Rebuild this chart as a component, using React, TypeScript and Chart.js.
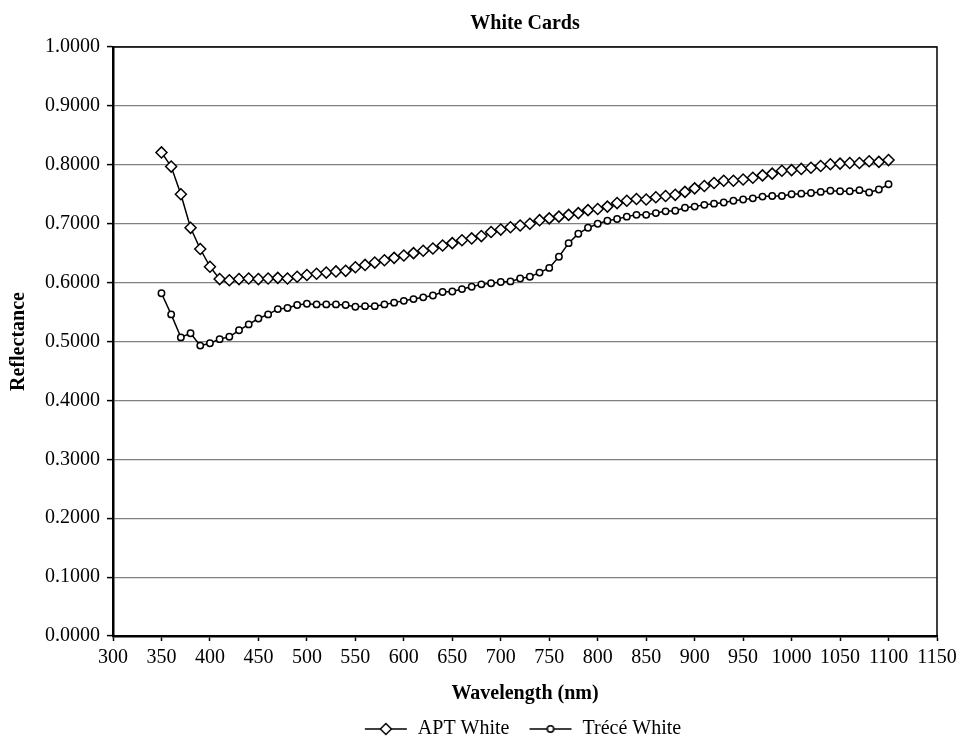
import React, { useEffect, useRef } from 'react';
import { Chart, registerables } from 'chart.js';

Chart.register(...registerables);

// wavelength (nm) of every reading
const wavelengths = [
  350, 360, 370, 380, 390, 400, 410, 420, 430, 440,
  450, 460, 470, 480, 490, 500, 510, 520, 530, 540,
  550, 560, 570, 580, 590, 600, 610, 620, 630, 640,
  650, 660, 670, 680, 690, 700, 710, 720, 730, 740,
  750, 760, 770, 780, 790, 800, 810, 820, 830, 840,
  850, 860, 870, 880, 890, 900, 910, 920, 930, 940,
  950, 960, 970, 980, 990, 1000, 1010, 1020, 1030, 1040,
  1050, 1060, 1070, 1080, 1090, 1100,
];

const aptWhite = [
  0.821, 0.797, 0.750, 0.693, 0.657, 0.627, 0.606, 0.604, 0.606, 0.607,
  0.606, 0.607, 0.608, 0.607, 0.610, 0.613, 0.615, 0.617, 0.619, 0.620,
  0.626, 0.630, 0.634, 0.638, 0.642, 0.646, 0.650, 0.654, 0.658, 0.663,
  0.667, 0.672, 0.675, 0.679, 0.686, 0.690, 0.694, 0.697, 0.700, 0.706,
  0.709, 0.712, 0.715, 0.718, 0.723, 0.725, 0.729, 0.735, 0.739, 0.742,
  0.741, 0.745, 0.747, 0.749, 0.754, 0.760, 0.764, 0.769, 0.773, 0.773,
  0.775, 0.778, 0.782, 0.785, 0.790, 0.791, 0.793, 0.795, 0.798, 0.801,
  0.802, 0.803, 0.803, 0.806, 0.805, 0.808,
];

const treceWhite = [
  0.582, 0.546, 0.507, 0.514, 0.493, 0.497, 0.504, 0.508, 0.519, 0.529,
  0.539, 0.546, 0.555, 0.557, 0.562, 0.564, 0.563, 0.563, 0.563, 0.562,
  0.559, 0.560, 0.560, 0.563, 0.566, 0.569, 0.572, 0.575, 0.578, 0.584,
  0.585, 0.589, 0.593, 0.597, 0.599, 0.601, 0.602, 0.607, 0.610, 0.617,
  0.625, 0.644, 0.667, 0.683, 0.693, 0.700, 0.705, 0.708, 0.712, 0.715,
  0.715, 0.718, 0.721, 0.722, 0.727, 0.729, 0.732, 0.734, 0.736, 0.739,
  0.741, 0.743, 0.746, 0.747, 0.747, 0.750, 0.751, 0.752, 0.754, 0.756,
  0.755, 0.755, 0.757, 0.753, 0.758, 0.767,
];

const seriesNames = ['APT White', 'Trécé White'];

const FONT = '"Liberation Serif", "Times New Roman", serif';

// small "—◇—" / "—o—" picture for the legend (left part kept empty as item spacing)
const ICON_GAP = 17;
function legendIcon(shape: 'diamond' | 'circle') {
  const c = document.createElement('canvas');
  c.width = 44 + ICON_GAP;
  c.height = 16;
  const ctx = c.getContext('2d')!;
  const x0 = ICON_GAP;
  const mid = x0 + 22;
  ctx.strokeStyle = '#000';
  ctx.lineWidth = 1.5;
  ctx.beginPath();
  ctx.moveTo(x0 + 1, 8);
  ctx.lineTo(x0 + 43, 8);
  ctx.stroke();
  ctx.fillStyle = '#fff';
  ctx.beginPath();
  if (shape === 'diamond') {
    ctx.moveTo(mid, 2.5);
    ctx.lineTo(mid + 5.5, 8);
    ctx.lineTo(mid, 13.5);
    ctx.lineTo(mid - 5.5, 8);
    ctx.closePath();
  } else {
    ctx.arc(mid, 8, 3.2, 0, Math.PI * 2);
  }
  ctx.fill();
  ctx.stroke();
  return c;
}

// thin black frame round the plot area (top and right edges),
// and nudge the legend a little left like the original
const framePlugin = {
  id: 'plotFrame',
  afterLayout(chart: any) {
    if (chart.legend) {
      chart.legend.left -= 11;
      chart.legend.right -= 11;
    }
  },
  afterDraw(chart: Chart) {
    const { ctx, chartArea } = chart;
    ctx.save();
    ctx.strokeStyle = '#000';
    ctx.lineWidth = 1.5;
    ctx.beginPath();
    ctx.moveTo(chartArea.left, chartArea.top);
    ctx.lineTo(chartArea.right, chartArea.top);
    ctx.lineTo(chartArea.right, chartArea.bottom);
    ctx.stroke();
    ctx.restore();
  },
};

const App: React.FC = () => {
  const chartRef = useRef<HTMLCanvasElement>(null);
  const chartInstance = useRef<Chart | null>(null);

  useEffect(() => {
    if (!chartRef.current) return;
    const ctx = chartRef.current.getContext('2d');
    if (!ctx) return;

    if (chartInstance.current) {
      chartInstance.current.destroy();
    }

    const icons = [legendIcon('diamond'), legendIcon('circle')];

    chartInstance.current = new Chart(ctx, {
      type: 'line',
      data: {
        datasets: [
          {
            label: seriesNames[0],
            data: wavelengths.map((w, i) => ({ x: w, y: aptWhite[i] })),
            borderColor: '#000',
            borderWidth: 1.5,
            pointStyle: 'rectRot',
            pointRadius: 5.5,
            pointBorderWidth: 1.5,
            pointBackgroundColor: '#fff',
            pointBorderColor: '#000',
            tension: 0,
          },
          {
            label: seriesNames[1],
            data: wavelengths.map((w, i) => ({ x: w, y: treceWhite[i] })),
            borderColor: '#000',
            borderWidth: 1.5,
            pointStyle: 'circle',
            pointRadius: 3.2,
            pointBorderWidth: 1.5,
            pointBackgroundColor: '#fff',
            pointBorderColor: '#000',
            tension: 0,
          },
        ],
      },
      options: {
        responsive: true,
        maintainAspectRatio: false,
        animation: false,
        layout: { padding: { top: 0, right: 0, bottom: -11, left: 0 } },
        scales: {
          x: {
            type: 'linear',
            min: 300,
            max: 1150,
            afterFit: (scale: any) => {
              scale.height = 81;
              scale.paddingRight = 22;
            },
            ticks: {
              stepSize: 50,
              color: '#000',
              padding: 5,
              maxRotation: 0,
              autoSkip: false,
              font: { family: FONT, size: 20 },
              callback: (v: any) => String(v),
            },
            grid: {
              drawOnChartArea: false,
              drawTicks: true,
              tickLength: 5,
              tickColor: '#000',
              tickWidth: 1.5,
            },
            border: { color: '#000', width: 2.5 },
            title: {
              display: true,
              text: 'Wavelength (nm)',
              color: '#000',
              font: { family: FONT, size: 20, weight: 'bold' },
              padding: { top: 0, bottom: 11 },
            },
          },
          y: {
            min: 0,
            max: 1,
            afterFit: (scale: any) => {
              scale.width = 113;
            },
            ticks: {
              stepSize: 0.1,
              color: '#000',
              padding: 7,
              font: { family: FONT, size: 20 },
              callback: (v: any) => Number(v).toFixed(4),
            },
            grid: {
              color: '#808080',
              lineWidth: 1.2,
              drawTicks: true,
              tickLength: 6,
              tickColor: '#000',
              tickWidth: 1.5,
            },
            border: { color: '#000', width: 2.5 },
            title: {
              display: true,
              text: 'Reflectance',
              color: '#000',
              font: { family: FONT, size: 20, weight: 'bold' },
              padding: { top: 7, bottom: 0 },
            },
          },
        },
        plugins: {
          title: {
            display: true,
            text: 'White Cards',
            fullSize: false,
            color: '#000',
            font: { family: FONT, size: 20, weight: 'bold' },
            padding: { top: 12, bottom: 11 },
          },
          legend: {
            position: 'bottom',
            fullSize: false,
            labels: {
              color: '#000',
              font: { family: FONT, size: 20 },
              usePointStyle: true,
              pointStyleWidth: 44 + ICON_GAP,
              padding: 2,
              generateLabels: (chart: Chart) =>
                Chart.defaults.plugins.legend.labels
                  .generateLabels(chart)
                  .map((item: any, i: number) => ({ ...item, pointStyle: icons[i] })),
            },
          },
          tooltip: { enabled: false },
        },
      },
      plugins: [framePlugin],
    });

    return () => {
      if (chartInstance.current) {
        chartInstance.current.destroy();
        chartInstance.current = null;
      }
    };
  }, []);

  return (
    <div style={{ position: 'fixed', left: 0, top: 0, width: '959px', height: '738px', background: '#fff' }}>
      <canvas ref={chartRef} />
    </div>
  );
};

export default App;
